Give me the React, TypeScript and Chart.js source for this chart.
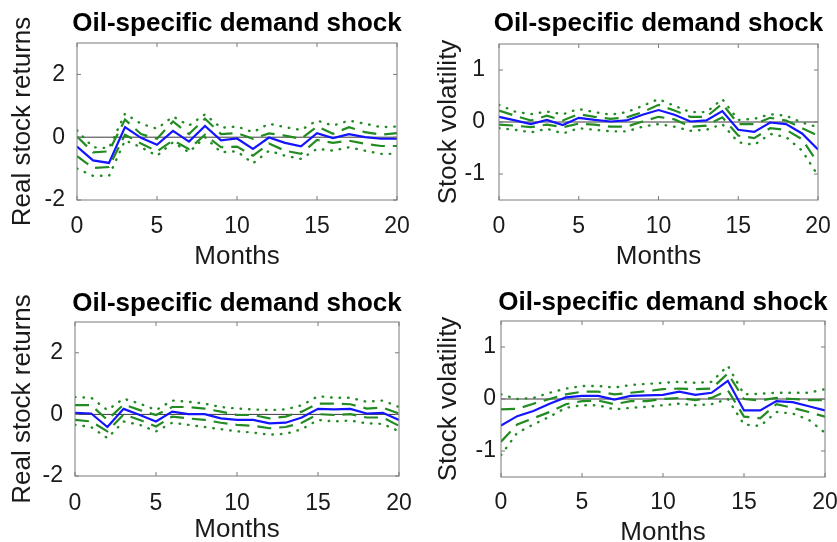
import React, { useEffect, useRef } from 'react';
import { Chart, registerables } from 'chart.js';

Chart.register(...registerables);

const MONTHS = [0, 1, 2, 3, 4, 5, 6, 7, 8, 9, 10, 11, 12, 13, 14, 15, 16, 17, 18, 19, 20];
const X_TICKS = [0, 5, 10, 15, 20];
const Y_TICKS_RETURNS = [-2, 0, 2];
const Y_TICKS_VOL = [-1, 0, 1];
const TITLE = 'Oil-specific demand shock';
const X_LABEL = 'Months';
const Y_LABEL_RETURNS = 'Real stock returns';
const Y_LABEL_VOL = 'Stock volatility';

// Top-left: real stock returns
const RET_A_MED = [-0.3, -0.74, -0.82, 0.32, -0.02, -0.24, 0.2, -0.14, 0.36, -0.1, -0.04, -0.37, -0.01, -0.18, -0.29, 0.13, -0.03, 0.1, 0, -0.05, -0.05];
const RET_A_UP68 = [0.02, -0.48, -0.45, 0.56, 0.1, -0.05, 0.5, 0.1, 0.59, 0.1, 0.13, -0.05, 0.12, 0.05, -0.05, 0.34, 0.11, 0.32, 0.16, 0.08, 0.13];
const RET_A_LO68 = [-0.6, -0.98, -0.95, 0.08, -0.2, -0.45, -0.1, -0.38, 0.08, -0.32, -0.3, -0.59, -0.2, -0.43, -0.53, -0.09, -0.18, -0.11, -0.21, -0.28, -0.28];
const RET_A_UP90 = [0.22, -0.32, -0.35, 0.75, 0.43, 0.27, 0.66, 0.37, 0.73, 0.3, 0.34, 0.16, 0.43, 0.32, 0.23, 0.53, 0.37, 0.53, 0.43, 0.32, 0.34];
const RET_A_LO90 = [-1.0, -1.23, -1.23, -0.1, -0.32, -0.59, -0.16, -0.48, 0, -0.48, -0.45, -0.83, -0.43, -0.59, -0.69, -0.37, -0.43, -0.32, -0.43, -0.53, -0.53];

// Top-right: stock volatility
const VOL_A_MED = [0.1, 0.03, -0.04, 0.04, -0.06, 0.08, 0.04, 0.01, 0.03, 0.14, 0.23, 0.14, 0.01, 0.03, 0.21, -0.15, -0.19, -0.01, -0.04, -0.22, -0.53];
const VOL_A_UP68 = [0.22, 0.12, 0.03, 0.12, 0.03, 0.15, 0.1, 0.06, 0.09, 0.19, 0.33, 0.22, 0.1, 0.1, 0.35, -0.04, -0.04, 0.08, 0.03, -0.12, -0.26];
const VOL_A_LO68 = [-0.05, -0.07, -0.1, -0.05, -0.1, -0.03, -0.05, -0.09, -0.09, 0.01, 0.1, 0.05, -0.09, -0.07, 0.09, -0.26, -0.31, -0.12, -0.15, -0.33, -0.79];
const VOL_A_UP90 = [0.33, 0.2, 0.15, 0.2, 0.15, 0.25, 0.19, 0.14, 0.19, 0.31, 0.44, 0.31, 0.19, 0.19, 0.44, 0.04, 0.06, 0.15, 0.12, -0.01, -0.1];
const VOL_A_LO90 = [-0.12, -0.15, -0.2, -0.13, -0.22, -0.12, -0.15, -0.18, -0.18, -0.09, -0.04, -0.09, -0.17, -0.15, -0.04, -0.39, -0.44, -0.23, -0.29, -0.55, -1.03];

// Bottom-left: real stock returns
const RET_B_MED = [0.05, 0.03, -0.41, 0.18, -0.02, -0.23, 0.09, 0.01, 0.01, -0.13, -0.18, -0.18, -0.29, -0.27, -0.1, 0.18, 0.16, 0.18, 0.03, 0.05, -0.18];
const RET_B_UP68 = [0.3, 0.3, -0.18, 0.32, 0.14, -0.02, 0.24, 0.24, 0.19, 0.09, -0.02, -0.02, -0.13, -0.07, 0.09, 0.35, 0.35, 0.33, 0.19, 0.22, 0.03];
const RET_B_LO68 = [-0.18, -0.23, -0.55, 0.0, -0.18, -0.39, -0.07, -0.13, -0.18, -0.27, -0.34, -0.37, -0.45, -0.41, -0.27, 0.01, -0.02, 0.01, -0.1, -0.1, -0.37];
const RET_B_UP90 = [0.56, 0.54, 0.14, 0.51, 0.35, 0.14, 0.45, 0.41, 0.35, 0.24, 0.19, 0.16, 0.14, 0.16, 0.3, 0.59, 0.54, 0.54, 0.41, 0.45, 0.24];
const RET_B_LO90 = [-0.34, -0.41, -0.77, -0.23, -0.34, -0.55, -0.27, -0.34, -0.41, -0.48, -0.55, -0.59, -0.66, -0.63, -0.48, -0.18, -0.23, -0.2, -0.29, -0.31, -0.55];

// Bottom-right: stock volatility
const VOL_B_MED = [-0.51, -0.33, -0.23, -0.09, 0.03, 0.06, 0.06, -0.01, 0.06, 0.07, 0.08, 0.14, 0.08, 0.12, 0.35, -0.22, -0.22, -0.04, -0.06, -0.14, -0.22];
const VOL_B_UP68 = [-0.2, -0.19, -0.09, 0, 0.09, 0.14, 0.14, 0.09, 0.12, 0.15, 0.19, 0.2, 0.19, 0.2, 0.49, 0, -0.03, 0.02, 0, -0.02, -0.02];
const VOL_B_LO68 = [-0.82, -0.49, -0.37, -0.25, -0.1, -0.04, -0.03, -0.1, -0.04, -0.04, 0, 0.02, -0.02, 0.02, 0.17, -0.34, -0.37, -0.1, -0.17, -0.25, -0.34];
const VOL_B_UP90 = [0.09, 0, 0.02, 0.12, 0.2, 0.25, 0.25, 0.22, 0.27, 0.29, 0.31, 0.33, 0.31, 0.33, 0.64, 0.09, 0.1, 0.12, 0.12, 0.12, 0.19];
const VOL_B_LO90 = [-1.08, -0.65, -0.49, -0.34, -0.17, -0.12, -0.12, -0.2, -0.17, -0.15, -0.12, -0.09, -0.12, -0.1, 0, -0.49, -0.52, -0.25, -0.28, -0.4, -0.65];

const FONT = '"Liberation Sans", Arial, Helvetica, sans-serif';
const GREEN = 'rgb(34,139,34)';
const BLUE = 'rgb(20,20,255)';
const BOX = '#7a7a7a';
const TEXT = '#1a1a1a';

type Panel = {
  left: number; top: number; width: number; height: number;
  yLabel: string; yMin: number; yMax: number; yTicks: number[];
  med: number[]; up68: number[]; lo68: number[]; up90: number[]; lo90: number[];
  yAxisWidth: number; padRight: number; padTop: number; xAxisHeight: number;
  titleY: number;
  yTickPad: number; yTitlePad: number; xTickPad: number; xTitlePad: number;
};

const PANELS: Panel[] = [
  {
    left: 0, top: 0, width: 418, height: 272,
    yLabel: Y_LABEL_RETURNS, yMin: -2, yMax: 3, yTicks: Y_TICKS_RETURNS,
    med: RET_A_MED, up68: RET_A_UP68, lo68: RET_A_LO68, up90: RET_A_UP90, lo90: RET_A_LO90,
    yAxisWidth: 77, padRight: 21, padTop: 43, xAxisHeight: 72,
    titleY: 24,
    yTickPad: 12, yTitlePad: 7.4, xTickPad: 13, xTitlePad: 0,
  },
  {
    left: 418, top: 0, width: 419, height: 272,
    yLabel: Y_LABEL_VOL, yMin: -1.5, yMax: 1.5, yTicks: Y_TICKS_VOL,
    med: VOL_A_MED, up68: VOL_A_UP68, lo68: VOL_A_LO68, up90: VOL_A_UP90, lo90: VOL_A_LO90,
    yAxisWidth: 81, padRight: 19, padTop: 44, xAxisHeight: 72,
    titleY: 24,
    yTickPad: 14, yTitlePad: 15.4, xTickPad: 13, xTitlePad: 0,
  },
  {
    left: 0, top: 272, width: 418, height: 276,
    yLabel: Y_LABEL_RETURNS, yMin: -2, yMax: 3, yTicks: Y_TICKS_RETURNS,
    med: RET_B_MED, up68: RET_B_UP68, lo68: RET_B_LO68, up90: RET_B_UP90, lo90: RET_B_LO90,
    yAxisWidth: 75, padRight: 19, padTop: 50, xAxisHeight: 72,
    titleY: 32,
    yTickPad: 12, yTitlePad: 7.4, xTickPad: 13.5, xTitlePad: 2.4,
  },
  {
    left: 418, top: 272, width: 419, height: 276,
    yLabel: Y_LABEL_VOL, yMin: -1.5, yMax: 1.5, yTicks: Y_TICKS_VOL,
    med: VOL_B_MED, up68: VOL_B_UP68, lo68: VOL_B_LO68, up90: VOL_B_UP90, lo90: VOL_B_LO90,
    yAxisWidth: 83, padRight: 12, padTop: 49, xAxisHeight: 71,
    titleY: 31,
    yTickPad: 5, yTitlePad: 15.4, xTickPad: 11.5, xTitlePad: 0,
  },
];

const boxPlugin = {
  id: 'matlabBox',
  beforeDatasetsDraw(chart: any) {
    const { ctx, chartArea, scales } = chart;
    const y0 = scales.y.getPixelForValue(0);
    ctx.save();
    ctx.strokeStyle = '#3a3a3a';
    ctx.lineWidth = 1;
    ctx.beginPath();
    ctx.moveTo(chartArea.left, y0);
    ctx.lineTo(chartArea.right, y0);
    ctx.stroke();
    ctx.restore();
  },
  afterDatasetsDraw(chart: any) {
    const { ctx, chartArea, scales } = chart;
    const { left, right, top, bottom } = chartArea;
    const tl = 4;
    ctx.save();
    ctx.strokeStyle = BOX;
    ctx.lineWidth = 1;
    ctx.strokeRect(left, top, right - left, bottom - top);
    ctx.beginPath();
    for (const v of X_TICKS) {
      const x = scales.x.getPixelForValue(v);
      ctx.moveTo(x, bottom); ctx.lineTo(x, bottom - tl);
      ctx.moveTo(x, top); ctx.lineTo(x, top + tl);
    }
    for (const t of scales.y.ticks) {
      const y = scales.y.getPixelForValue(t.value);
      ctx.moveTo(left, y); ctx.lineTo(left + tl, y);
      ctx.moveTo(right, y); ctx.lineTo(right - tl, y);
    }
    ctx.stroke();
    ctx.restore();
  },
  afterDraw(chart: any, _args: any, opts: any) {
    const { ctx, chartArea } = chart;
    ctx.save();
    ctx.fillStyle = '#000';
    ctx.font = `bold 26px ${FONT}`;
    ctx.textAlign = 'center';
    ctx.textBaseline = 'middle';
    ctx.fillText(opts.text, (chartArea.left + chartArea.right) / 2, opts.y);
    ctx.restore();
  },
};

function PanelChart({ p }: { p: Panel }) {
  const ref = useRef<HTMLCanvasElement>(null);
  useEffect(() => {
    const toXY = (arr: number[]) => MONTHS.map((m, i) => ({ x: m, y: arr[i] }));
    const dotted = { borderColor: GREEN, borderWidth: 2.4, borderDash: [0.5, 8], borderCapStyle: 'round' };
    const dashed = { borderColor: GREEN, borderWidth: 2.2, borderDash: [14, 8], borderCapStyle: 'butt' };
    const tickFont = { family: FONT, size: 23 };
    const labelFont = { family: FONT, size: 26 };
    const chart = new Chart(ref.current as HTMLCanvasElement, {
      type: 'line',
      data: {
        datasets: [
          { data: toXY(p.up90), ...dotted },
          { data: toXY(p.lo90), ...dotted },
          { data: toXY(p.up68), ...dashed },
          { data: toXY(p.lo68), ...dashed },
          { data: toXY(p.med), borderColor: BLUE, borderWidth: 2.2 },
        ] as any,
      },
      options: {
        responsive: false,
        animation: false,
        layout: { padding: { left: 0, right: p.padRight, top: p.padTop, bottom: 0 } },
        elements: { point: { radius: 0 }, line: { tension: 0 } },
        plugins: {
          legend: { display: false },
          tooltip: { enabled: false },
          title: { display: false },
          matlabBox: { text: TITLE, y: p.titleY },
        },
        scales: {
          x: {
            type: 'linear',
            min: 0,
            max: 20,
            afterBuildTicks: (s: any) => { s.ticks = X_TICKS.map((v) => ({ value: v })); },
            afterFit: (s: any) => { s.height = p.xAxisHeight; s.paddingLeft = 0; s.paddingRight = 0; },
            grid: { display: false, drawTicks: false },
            border: { display: false },
            ticks: { font: tickFont, color: TEXT, padding: p.xTickPad, maxRotation: 0, autoSkip: false },
            title: { display: true, text: X_LABEL, font: labelFont, color: TEXT, padding: { top: 0, bottom: p.xTitlePad } },
          },
          y: {
            type: 'linear',
            min: p.yMin,
            max: p.yMax,
            afterBuildTicks: (s: any) => { s.ticks = p.yTicks.map((v) => ({ value: v })); },
            afterFit: (s: any) => { s.width = p.yAxisWidth; s.paddingTop = 0; s.paddingBottom = 0; },
            grid: { display: false, drawTicks: false },
            border: { display: false },
            ticks: { font: tickFont, color: TEXT, padding: p.yTickPad, autoSkip: false },
            title: { display: true, text: p.yLabel, font: labelFont, color: TEXT, padding: { top: p.yTitlePad, bottom: 0 } },
          },
        },
      } as any,
      plugins: [boxPlugin],
    });
    return () => chart.destroy();
  }, []);
  return (
    <canvas
      ref={ref}
      width={p.width}
      height={p.height}
      style={{ position: 'absolute', left: p.left, top: p.top, width: p.width, height: p.height }}
    />
  );
}

export default function App() {
  return (
    <div style={{ position: 'absolute', left: 0, top: 0, width: 837, height: 542, overflow: 'hidden', background: '#fff' }}>
      {PANELS.map((p, i) => (
        <PanelChart key={i} p={p} />
      ))}
    </div>
  );
}
